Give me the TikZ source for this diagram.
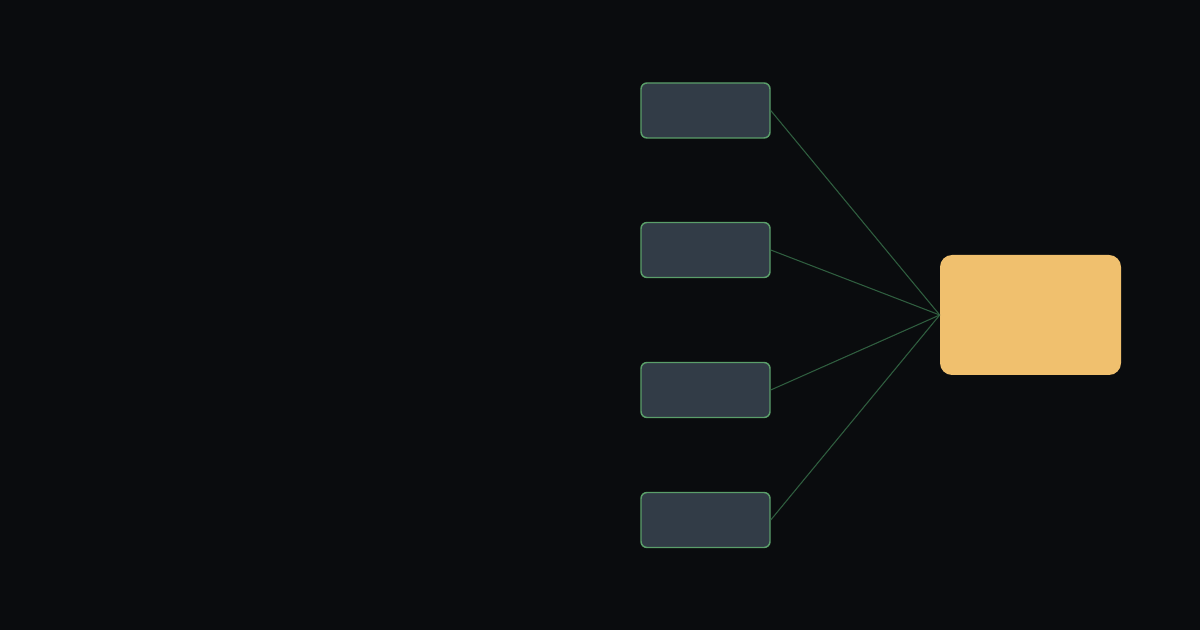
\documentclass[tikz,border=0pt]{standalone}
\usepackage{amsmath}

\definecolor{bgdark}{HTML}{0A0C0E}
\definecolor{slatefill}{HTML}{323C47}
\definecolor{greenedge}{HTML}{5A9E6A}
\definecolor{greenwire}{HTML}{2F5E3F}
\definecolor{hubgold}{HTML}{F0C06E}

\begin{document}
\begin{tikzpicture}[x=0.75pt,y=0.75pt,yscale=-1,xscale=1,
		srcbox/.style={draw=greenedge, fill=slatefill, line width=1.1pt, rounded corners=4.5pt, inner sep=0pt, minimum width=96.75pt, minimum height=41.25pt},
		hubbox/.style={fill=hubgold, rounded corners=9pt, inner sep=0pt, minimum width=135.75pt, minimum height=90pt},
		wire/.style={draw=greenwire, line width=0.8pt}]
		\fill [bgdark] (0,0) rectangle (1200,630) ;
		\useasboundingbox (0,0) rectangle (1200,630) ;
		\node [srcbox] (srcA) at (705.5,110.5) {};
		\node [srcbox] (srcB) at (705.5,250) {};
		\node [srcbox] (srcC) at (705.5,390) {};
		\node [srcbox] (srcD) at (705.5,520) {};
		\node [hubbox] (hub) at (1030.5,315) {};
		\draw [wire] (srcA.east) -- (hub.west) ;
		\draw [wire] (srcB.east) -- (hub.west) ;
		\draw [wire] (srcC.east) -- (hub.west) ;
		\draw [wire] (srcD.east) -- (hub.west) ;
		\end{tikzpicture}
\end{document}
